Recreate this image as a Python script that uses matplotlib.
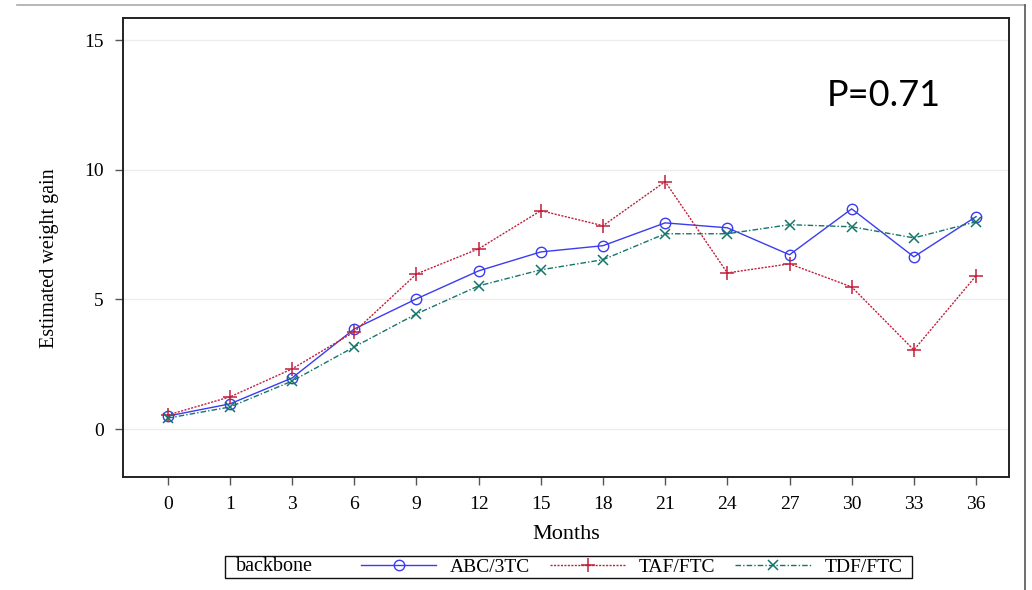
import matplotlib.pyplot as plt
from matplotlib.lines import Line2D
from matplotlib.patches import Rectangle

months = ['0', '1', '3', '6', '9', '12', '15', '18', '21', '24', '27', '30', '33', '36']
abc_3tc = [0.50, 0.97, 1.97, 3.86, 5.02, 6.10, 6.83, 7.07, 7.95, 7.76, 6.72, 8.49, 6.64, 8.19]
taf_ftc = [0.54, 1.24, 2.32, 3.75, 5.98, 6.95, 8.42, 7.84, 9.54, 6.02, 6.37, 5.48, 3.05, 5.91]
tdf_ftc = [0.42, 0.85, 1.85, 3.17, 4.44, 5.52, 6.14, 6.53, 7.53, 7.53, 7.88, 7.80, 7.37, 7.99]
y_ticks = [0, 5, 10, 15]

serif = 'Liberation Serif'


def main():
    fig = plt.figure(figsize=(10.32, 5.90), dpi=100)
    ax = fig.add_axes([0.1192, 0.1915, 0.8585, 0.778])

    x = list(range(len(months)))
    ax.plot(x, abc_3tc, color='#3b3bf0', lw=1.0, ls='-', marker='o', ms=7.5,
            mfc='none', mew=1.0, label='ABC/3TC')
    ax.plot(x, taf_ftc, color='#c0203c', lw=1.0, ls=(0, (1.5, 1)), marker='+', ms=9.5,
            mew=1.1, label='TAF/FTC')
    ax.plot(x, tdf_ftc, color='#14756a', lw=1.0, ls=(0, (4, 1.5, 1, 1.5)), marker='x', ms=7.5,
            mew=1.1, label='TDF/FTC')

    ax.set_xlim(-0.72, 13.53)
    ax.set_ylim(-1.85, 15.85)
    ax.set_xticks(x)
    ax.set_xticklabels(months, fontfamily=serif, fontsize=14)
    ax.set_yticks(y_ticks)
    ax.set_yticklabels([str(v) for v in y_ticks], fontfamily=serif, fontsize=14)
    ax.tick_params(direction='out', length=6, width=1.0, color='#555555', pad=8)
    ax.yaxis.grid(True, color='#ececec', lw=1.0)
    ax.set_axisbelow(True)
    for spine in ax.spines.values():
        spine.set_linewidth(1.4)
        spine.set_color('#222222')

    ax.set_xlabel('Months', fontfamily=serif, fontsize=16, labelpad=8)
    ax.set_ylabel('Estimated weight gain', fontfamily=serif, fontsize=14.5)
    ax.yaxis.set_label_coords(-0.072, 0.477)

    ax.text(0.794, 0.832, 'P=0.71', transform=ax.transAxes, fontfamily='Lato',
            fontsize=26, ha='left', va='center')

    # legend box at the bottom
    fig.add_artist(Rectangle((0.218, 0.0203), 0.666, 0.0373, transform=fig.transFigure,
                             fill=False, ec='#111111', lw=1.0))
    fig.text(0.2287, 0.039, 'backbone', fontfamily=serif, fontsize=14.5, va='center')
    handles, labels = ax.get_legend_handles_labels()
    fig.legend(handles, labels, ncol=3, frameon=False, loc='center',
               bbox_to_anchor=(0.612, 0.039), prop={'family': serif, 'size': 14},
               handlelength=3.9, handletextpad=0.7, columnspacing=1.0,
               borderpad=0, borderaxespad=0)

    # slide border lines
    fig.add_artist(Line2D([0.016, 0.993], [0.991, 0.991], transform=fig.transFigure,
                          color='#aaaaaa', lw=1.2))
    fig.add_artist(Line2D([0.993, 0.993], [0.991, 0.0], transform=fig.transFigure,
                          color='#555555', lw=1.2))

    fig.savefig('out.png', dpi=100)


if __name__ == '__main__':
    main()
